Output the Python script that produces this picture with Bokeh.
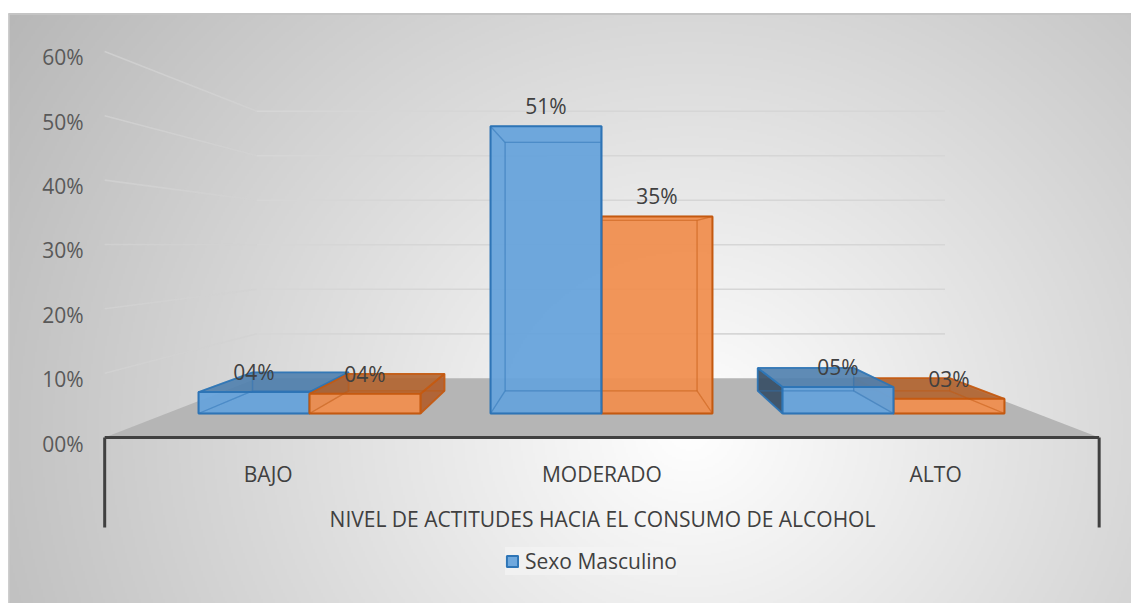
import numpy as np
from bokeh.plotting import figure
from bokeh.models import Range1d, ColumnDataSource, Legend, LegendItem
from bokeh.core.properties import value
from bokeh.embed import file_html
from bokeh.resources import INLINE

# ---------------- data ----------------
categories = ["BAJO", "MODERADO", "ALTO"]
masculino = [3.8, 51.0, 4.7]      # % (Sexo Masculino, blue)
femenino = [3.5, 35.0, 2.6]       # % (second series, orange)
y_ticks = [0, 10, 20, 30, 40, 50, 60]
y_tick_labels = ["00%", "10%", "20%", "30%", "40%", "50%", "60%"]
x_title = "NIVEL DE ACTITUDES HACIA EL CONSUMO DE ALCOHOL"
legend_label = "Sexo Masculino"

# ---------------- layout ----------------
W, H = 1131, 603
PX0, PY0 = 0, 0
CX0, CDX = 309.0, 292.0     # pixel of category 0, pixels per category (bar plane)
VY0, VDY = 413.0, 5.63      # pixel of 0 %, pixels per % (bar plane)

def X(px):
    return (px - CX0) / CDX

def Y(py):
    return (VY0 - py) / VDY

XV, YV = X(598), Y(245)          # vanishing point
S_FRONT = 1 / 0.875              # floor front edge
S_BACK = 0.865                   # back of the bars
S_WALL = 0.692 / 0.875           # back wall
XL, XR = -0.49, 2.49             # floor extent (category units)
BW = 0.38                        # bar width

def proj(x, v, s):
    return XV + s * (x - XV), YV + s * (v - YV)

FONT = value("Open Sans")
FS = "21px"
p = figure(width=W, height=H, x_range=Range1d(X(PX0), X(PX0 + W)),
           y_range=Range1d(Y(PY0 + H), Y(PY0)), output_backend="svg",
           toolbar_location=None, min_border=0)
p.axis.visible = False
p.grid.visible = False
p.outline_line_color = None
p.background_fill_color = "white"
p.border_fill_color = "white"

# ---- background gradient ----
bw, bh = 562, 295
gx = np.linspace(8, 1131, bw)
gy = np.linspace(13, 603, bh)
GX, GY = np.meshgrid(gx, gy)
t = np.sqrt(((GX - 690) / 650) ** 2 + ((GY - 430) / 600) ** 2)
g = (255 - 57 * np.clip(t, 0, 1.25)).astype(np.uint8)[::-1]
rgba = np.zeros((bh, bw, 4), dtype=np.uint8)
rgba[..., 0] = g
rgba[..., 1] = g
rgba[..., 2] = g
rgba[..., 3] = 255
img = rgba.view(dtype=np.uint32).reshape((bh, bw))
p.image_rgba(image=[img], x=X(8), y=Y(603), dw=X(1131) - X(8), dh=Y(13) - Y(603))
p.line([X(8), X(1131)], [Y(13.5), Y(13.5)], line_color="#C4C4C4", line_width=2)
p.line([X(8.5), X(8.5)], [Y(13), Y(603)], line_color="#C8C8C8", line_width=1.5)

# ---- floor ----
fl = [proj(XL, 0, S_FRONT), proj(XR, 0, S_FRONT), proj(XR, 0, S_WALL), proj(XL, 0, S_WALL)]
p.patch([a for a, b in fl], [b for a, b in fl], fill_color="#B5B5B5", line_color=None)

# ---- gridlines ----
for v in y_ticks[1:]:
    a = proj(XL, v, S_WALL)
    b = proj(XR, v, S_WALL)
    c = proj(XL, v, S_FRONT)
    p.line([a[0], b[0]], [a[1], b[1]], line_color="#D6D6D6", line_width=1.6)
    p.line([c[0], a[0]], [c[1], a[1]], line_color="#D2D2D2", line_width=1.6, line_alpha=0.8)

# ---- axis frame ----
fL = proj(XL, 0, S_FRONT)
fR = proj(XR, 0, S_FRONT)
p.line([fL[0], fR[0]], [fL[1], fR[1]], line_color="#404040", line_width=3)
p.line([fL[0], fL[0]], [fL[1], Y(527)], line_color="#404040", line_width=3)
p.line([fR[0], fR[0]], [fR[1], Y(527)], line_color="#404040", line_width=3)

# y tick labels
tick_pts = [proj(XL, v, S_FRONT) for v in y_ticks]
p.text(x=[a for a, b in tick_pts], y=[b for a, b in tick_pts], text=y_tick_labels,
       text_align="right", text_baseline="middle", x_offset=-21, y_offset=6,
       text_font=FONT, text_font_size=FS, text_color="#595959")

# category labels
cat_x = [proj(i, 0, S_FRONT)[0] for i in range(len(categories))]
p.text(x=cat_x, y=[Y(473)] * len(categories), text=categories, text_align="center",
       text_baseline="middle", text_font=FONT, text_font_size=FS, text_color="#404040")
p.text(x=[X(602)], y=[Y(518)], text=[x_title], text_align="center", text_baseline="middle",
       text_font=FONT, text_font_size=FS, text_color="#404040")

# ---- bars ----
series = [
    dict(vals=masculino, off=-BW / 2, front="#67A3DB", edge="#2E75B6",
         top="#4F7FAE", side="#344B63", side2="#3F6E9C"),
    dict(vals=femenino, off=BW / 2, front="#F08F50", edge="#C55A11",
         top="#B3642F", side="#A65527", side2="#B05C2A"),
]

blue_fronts = []
for i in range(len(categories)):
    order = sorted(range(2), key=lambda k: -abs(i + series[k]["off"] - XV))
    for k in order:
        s = series[k]
        v = s["vals"][i]
        x0 = i + s["off"] - BW / 2
        x1 = i + s["off"] + BW / 2

        def B(x, y):
            return proj(x, y, S_BACK)

        back = [B(x0, 0), B(x1, 0), B(x1, v), B(x0, v)]
        bottom = [(x0, 0), (x1, 0), B(x1, 0), B(x0, 0)]
        left = [(x0, 0), (x0, v), B(x0, v), B(x0, 0)]
        right = [(x1, 0), (x1, v), B(x1, v), B(x1, 0)]
        top = [(x0, v), (x1, v), B(x1, v), B(x0, v)]

        visible, hidden = [], [back, bottom]
        (visible if x0 > XV else hidden).append((left, s["side"]))
        (visible if x1 < XV else hidden).append((right, s["side2"]))
        (visible if v < YV else hidden).append((top, s["top"]))
        hidden = [h[0] if isinstance(h, tuple) else h for h in hidden]

        if visible:
            src = ColumnDataSource(dict(
                xs=[[a for a, b in poly] for poly, c in visible],
                ys=[[b for a, b in poly] for poly, c in visible],
                fc=[c for poly, c in visible]))
            p.patches("xs", "ys", source=src, fill_color="fc", fill_alpha=0.9,
                      line_color=s["edge"], line_width=1.8, line_alpha=0.9)
        r = p.vbar(x=[i + s["off"]], top=[v], bottom=0, width=BW, fill_color=s["front"],
                   fill_alpha=0.95, line_color=s["edge"], line_width=2)
        p.multi_line([[a for a, b in poly] + [poly[0][0]] for poly in hidden],
                     [[b for a, b in poly] + [poly[0][1]] for poly in hidden],
                     line_color=s["edge"], line_width=1.3, line_alpha=0.3)
        if k == 0:
            blue_fronts.append(r)

# data labels
for s in series:
    xs_ = [i + s["off"] for i in range(len(categories))]
    labels = [f"{round(v):02d}%" for v in s["vals"]]
    p.text(x=xs_, y=s["vals"], text=labels, text_align="center", text_baseline="middle",
           y_offset=-20, text_font=FONT, text_font_size=FS, text_color="#404040")

# ---- legend ----
legend = Legend(items=[LegendItem(label=legend_label, renderers=[blue_fronts[0]])],
                location=(505, 28), orientation="horizontal",
                label_text_font="Open Sans", label_text_font_size="21px",
                label_text_color="#404040",
                glyph_width=14, glyph_height=14, label_standoff=6, padding=10, margin=0,
                background_fill_color="#F4F4F4", background_fill_alpha=0.7,
                border_line_color=None)
p.add_layout(legend)

open("out.html", "w").write(file_html(p, INLINE))
